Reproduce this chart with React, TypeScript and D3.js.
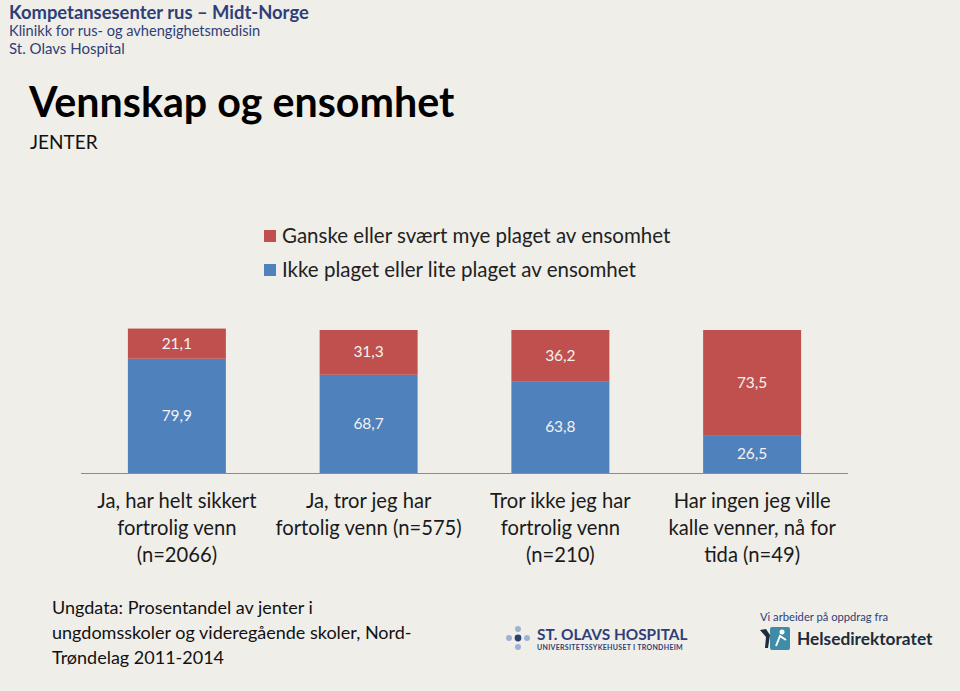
import React from "react";
import * as d3 from "d3";

const categories: string[][] = [
  ["Ja, har helt sikkert", "fortrolig venn", "(n=2066)"],
  ["Ja, tror jeg har", "fortolig venn (n=575)"],
  ["Tror ikke jeg har", "fortrolig venn", "(n=210)"],
  ["Har ingen jeg ville", "kalle venner, nå for", "tida (n=49)"],
];
const catKeys = ["c1", "c2", "c3", "c4"];
const notLonely = [79.9, 68.7, 63.8, 26.5];
const lonely = [21.1, 31.3, 36.2, 73.5];
const seriesNames = [
  "Ganske eller svært mye plaget av ensomhet",
  "Ikke plaget eller lite plaget av ensomhet",
];
const fmt = (v: number) => v.toFixed(1).replace(".", ",");

const W = 960;
const H = 691;
const BG = "#F0EEE9";
const RED = "#C0504D";
const BLUE = "#4F81BD";
const FONT = "Lato, 'Open Sans', sans-serif";

export default function App() {
  const x = d3
    .scaleBand<string>()
    .domain(catKeys)
    .range([81, 848])
    .paddingInner(0.489)
    .paddingOuter(0.2445);
  const y = d3.scaleLinear().domain([0, 100]).range([473, 330]);

  const stacked = catKeys.map((k, i) => ({
    key: k,
    blue: [0, notLonely[i]],
    red: [notLonely[i], notLonely[i] + lonely[i]],
  }));

  return (
    <svg
      width={W}
      height={H}
      style={{ position: "absolute", left: 0, top: 0, display: "block" }}
      fontFamily={FONT}
    >
      <rect x={0} y={0} width={W} height={H} fill={BG} />

      {/* header */}
      <text x={9} y={19} fontSize={18.4} fontWeight={700} fill="#2E3F78">
        Kompetansesenter rus – Midt-Norge
      </text>
      <text x={9} y={36} fontSize={14.6} fill="#2E3F78">
        Klinikk for rus- og avhengighetsmedisin
      </text>
      <text x={9} y={54} fontSize={15} fill="#2E3F78">
        St. Olavs Hospital
      </text>

      {/* title */}
      <text x={29} y={117} fontSize={41.2} fontWeight={700} fill="#000">
        Vennskap og ensomhet
      </text>
      <text x={30} y={149} fontSize={19} fill="#111">
        JENTER
      </text>

      {/* legend */}
      {[RED, BLUE].map((c, i) => (
        <g key={c}>
          <rect x={264} y={230 + i * 34} width={12} height={12} fill={c} />
          <text x={282} y={243 + i * 34} fontSize={20.5} fill="#222">
            {seriesNames[i]}
          </text>
        </g>
      ))}

      {/* bars */}
      {stacked.map((d) => (
        <g key={d.key}>
          <rect
            x={x(d.key)}
            y={y(d.blue[1])}
            width={x.bandwidth()}
            height={y(d.blue[0]) - y(d.blue[1])}
            fill={BLUE}
          />
          <rect
            x={x(d.key)}
            y={y(d.red[1])}
            width={x.bandwidth()}
            height={y(d.red[0]) - y(d.red[1])}
            fill={RED}
          />
          <text
            x={(x(d.key) as number) + x.bandwidth() / 2}
            y={(y(d.blue[0]) + y(d.blue[1])) / 2 + 5}
            textAnchor="middle"
            fontSize={15.5}
            fill="#F2F2F2"
          >
            {fmt(d.blue[1] - d.blue[0])}
          </text>
          <text
            x={(x(d.key) as number) + x.bandwidth() / 2}
            y={(y(d.red[0]) + y(d.red[1])) / 2 + 5}
            textAnchor="middle"
            fontSize={15.5}
            fill="#F2F2F2"
          >
            {fmt(d.red[1] - d.red[0])}
          </text>
        </g>
      ))}

      {/* axis line */}
      <line x1={81} x2={848} y1={473.5} y2={473.5} stroke="#8C8C8C" strokeWidth={1.2} />

      {/* category labels */}
      {categories.map((lines, i) => (
        <text
          key={catKeys[i]}
          x={(x(catKeys[i]) as number) + x.bandwidth() / 2}
          textAnchor="middle"
          fontSize={20.2}
          fill="#1A1A1A"
        >
          {lines.map((l, j) => (
            <tspan key={j} x={(x(catKeys[i]) as number) + x.bandwidth() / 2} y={508 + j * 27}>
              {l}
            </tspan>
          ))}
        </text>
      ))}

      {/* footer note */}
      {[
        "Ungdata: Prosentandel av jenter i",
        "ungdomsskoler og videregående skoler, Nord-",
        "Trøndelag 2011-2014",
      ].map((l, j) => (
        <text key={j} x={52} y={614 + j * 25} fontSize={18} fill="#111">
          {l}
        </text>
      ))}

      {/* St. Olavs logo */}
      <g>
        <circle cx={518} cy={629} r={3} fill="#9DB3D6" />
        <circle cx={518} cy={647} r={3} fill="#9DB3D6" />
        <circle cx={509} cy={638} r={3} fill="#9DB3D6" />
        <circle cx={527} cy={638} r={3} fill="#9DB3D6" />
        <circle cx={518} cy={638} r={3.4} fill="#2E3F78" />
        <text x={537} y={640} fontSize={15.4} fontWeight={700} fill="#2E3F78">
          ST. OLAVS HOSPITAL
        </text>
        <text x={537} y={650} fontSize={7} fontWeight={700} fill="#2E3F78" letterSpacing={0.3}>
          UNIVERSITETSSYKEHUSET I TRONDHEIM
        </text>
      </g>

      {/* Helsedirektoratet logo */}
      <g>
        <text x={760} y={621} fontSize={11.2} fill="#2E3F78">
          Vi arbeider på oppdrag fra
        </text>
        <rect x={770} y={627} width={20} height={23} rx={2} fill="#3E8CA8" />
        <path d="M760 630 L766 629 L770 635 L768 648 L765 648 L766 637 Z" fill="#1E2B3A" />
        <circle cx={782} cy={632} r={2.5} fill="#fff" />
        <path d="M776 646 L780 636 L786 640" stroke="#fff" strokeWidth={2} fill="none" />
        <text x={797} y={645} fontSize={17.3} fontWeight={700} fill="#1E2B3A">
          Helsedirektoratet
        </text>
      </g>
    </svg>
  );
}
